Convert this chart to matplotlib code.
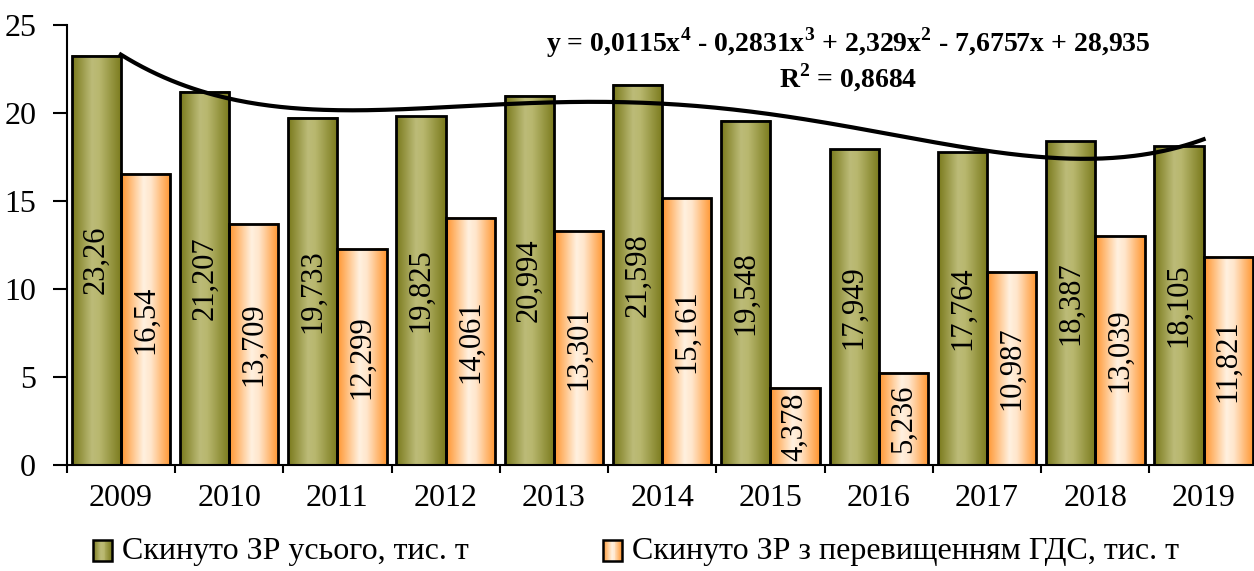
import matplotlib.pyplot as plt
import numpy as np
from matplotlib.patches import Rectangle
from matplotlib.legend_handler import HandlerBase
from matplotlib.colors import LinearSegmentedColormap

plt.rcParams['font.family'] = ['Liberation Serif', 'DejaVu Serif']
plt.rcParams['mathtext.fontset'] = 'custom'
plt.rcParams['mathtext.rm'] = 'Liberation Serif'
plt.rcParams['mathtext.bf'] = 'Liberation Serif:bold'

# дані
years = ['2009', '2010', '2011', '2012', '2013', '2014', '2015', '2016', '2017', '2018', '2019']
total = [23.26, 21.207, 19.733, 19.825, 20.994, 21.598, 19.548, 17.949, 17.764, 18.387, 18.105]
over_gds = [16.54, 13.709, 12.299, 14.061, 13.301, 15.161, 4.378, 5.236, 10.987, 13.039, 11.821]
total_lbl = ['23,26', '21,207', '19,733', '19,825', '20,994', '21,598', '19,548', '17,949', '17,764', '18,387', '18,105']
over_lbl = ['16,54', '13,709', '12,299', '14,061', '13,301', '15,161', '4,378', '5,236', '10,987', '13,039', '11,821']
names = ['Скинуто ЗР усього, тис. т', 'Скинуто ЗР з перевищенням ГДС, тис. т']

green = LinearSegmentedColormap.from_list('g', [(0, '#7a7a1c'), (0.4, '#bcbb78'), (0.55, '#b8b76e'), (1, '#7a7a1c')])
orange = LinearSegmentedColormap.from_list('o', [(0, '#ff9630'), (0.45, '#fff1e0'), (0.6, '#ffe6cc'), (1, '#ff9630')])
grad = np.linspace(0, 1, 64).reshape(1, -1)

fig = plt.figure(figsize=(12.54, 5.71), dpi=100)
ax = fig.add_axes([66.7 / 1254, 106 / 571, 1191 / 1254, 440 / 571])

x = np.arange(1, len(years) + 1)
w = 1 / 2.2
b1 = ax.bar(x - w / 2, total, w, facecolor='none', edgecolor='black', linewidth=2, zorder=3)
b2 = ax.bar(x + w / 2, over_gds, w, facecolor='none', edgecolor='black', linewidth=2, zorder=3)

for bars, cmap, labels in [(b1, green, total_lbl), (b2, orange, over_lbl)]:
    for p, lab in zip(bars, labels):
        x0, wd, h = p.get_x(), p.get_width(), p.get_height()
        ax.imshow(grad, cmap=cmap, extent=(x0, x0 + wd, 0, h), aspect='auto', zorder=2, interpolation='bilinear')
        ax.text(x0 + wd / 2, h / 2, lab, rotation=90, ha='center', va='center', fontsize=22, zorder=4)

# поліноміальний тренд 4-го ступеня
coef = np.polyfit(x, total, 4)
xs = np.linspace(1, 11, 300)
ax.plot(xs, np.polyval(coef, xs), color='black', linewidth=3, zorder=5)

ax.text(7.72, 24.0, r'y = 0,0115x$^\mathbf{4}$ - 0,2831x$^\mathbf{3}$ + 2,329x$^\mathbf{2}$ - 7,6757x + 28,935',
        ha='center', va='center', fontsize=20, fontweight='bold')
ax.text(7.72, 22.0, r'R$^\mathbf{2}$ = 0,8684', ha='center', va='center', fontsize=20, fontweight='bold')

ax.set_xlim(0.5, 11.5)
ax.set_ylim(0, 25)
ax.set_yticks([0, 5, 10, 15, 20, 25])
ax.set_xticks(x)
ax.set_xticklabels(years)
ax.set_xticks(np.arange(0.5, 12, 1), minor=True)
ax.tick_params(axis='x', which='major', length=0, labelsize=23, pad=14)
ax.tick_params(axis='x', which='minor', length=6, width=1.5, direction='out')
ax.tick_params(axis='y', length=10, width=1.5, labelsize=23, pad=12)
for s in ['top', 'right']:
    ax.spines[s].set_visible(False)
for s in ['left', 'bottom']:
    ax.spines[s].set_linewidth(1.5)


class GradHandler(HandlerBase):
    def __init__(self, cmap):
        super().__init__()
        self.cmap = cmap

    def create_artists(self, legend, orig, xd, yd, width, height, fontsize, trans):
        arts = []
        n = 20
        for i in range(n):
            arts.append(Rectangle((xd + width * i / n, yd), width / n + 0.3, height,
                                  facecolor=self.cmap((i + 0.5) / n), edgecolor='none', transform=trans))
        arts.append(Rectangle((xd, yd), width, height, facecolor='none', edgecolor='black',
                              linewidth=1.8, transform=trans))
        return arts


h1 = Rectangle((0, 0), 1, 1)
h2 = Rectangle((0, 0), 1, 1)
for h, name, cm, xpos in [(h1, names[0], green, 93), (h2, names[1], orange, 603)]:
    fig.legend([h], [name], handler_map={h: GradHandler(cm)}, loc='center left',
               bbox_to_anchor=(xpos / 1254, 1 - 552 / 571), frameon=False, fontsize=23,
               borderpad=0, borderaxespad=0, handlelength=0.6, handleheight=0.6, handletextpad=0.3)

plt.savefig('out.png', dpi=100)
